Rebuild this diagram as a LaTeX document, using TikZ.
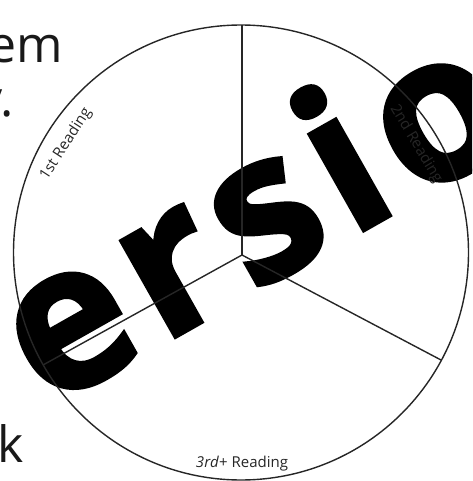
\documentclass[tikz,border=0pt]{standalone}
\usepackage{fontspec}
\setmainfont{Open Sans}
\newfontfamily\markfont[LetterSpace=6, FakeBold=2]{Open Sans}
\tikzset{
  seg/.style={line width=1.4pt, black!85},
  lbl/.style={font=\fontsize{15}{18}\selectfont, inner sep=0pt, black!85},
  big/.style={font=\fontsize{50}{60}\selectfont, inner sep=0pt, black!90, anchor=base east},
}
\begin{document}
\begin{tikzpicture}[x=1pt, y=-1pt]
\useasboundingbox (0,0) rectangle (472,481);
\clip (0,0) rectangle (472,481);
% watermark
\node[anchor=base west, rotate=29.5, inner sep=0pt, text=black,
  font=\markfont\bfseries\fontsize{202}{202}\selectfont] (mark) at (-74,478) {Version};
% page text cut off at the left
\node[big] (tEm) at (63,63) {em};
\node[big] (tY) at (14,117) {y.};
\node[big] (tK) at (24,462) {k};
% wheel
\coordinate (ctr) at (241,252.5);
\draw[seg] (ctr) circle[radius=227.5];
\coordinate (hub) at (242,255);
\coordinate (rTop) at (242,25);
\coordinate (rRight) at (441,360);
\coordinate (rLeft) at (43,365);
\draw[seg] (hub) -- (rTop);
\draw[seg] (hub) -- (rRight);
\draw[seg] (hub) -- (rLeft);
% readings
\node[lbl, rotate=57] (first) at (66,144) {1st Reading};
\node[lbl, rotate=-59] (second) at (416,144) {2nd Reading};
\node[lbl, anchor=base] (third) at (242,467) {\textit{3rd}+ Reading};
\end{tikzpicture}
\end{document}
